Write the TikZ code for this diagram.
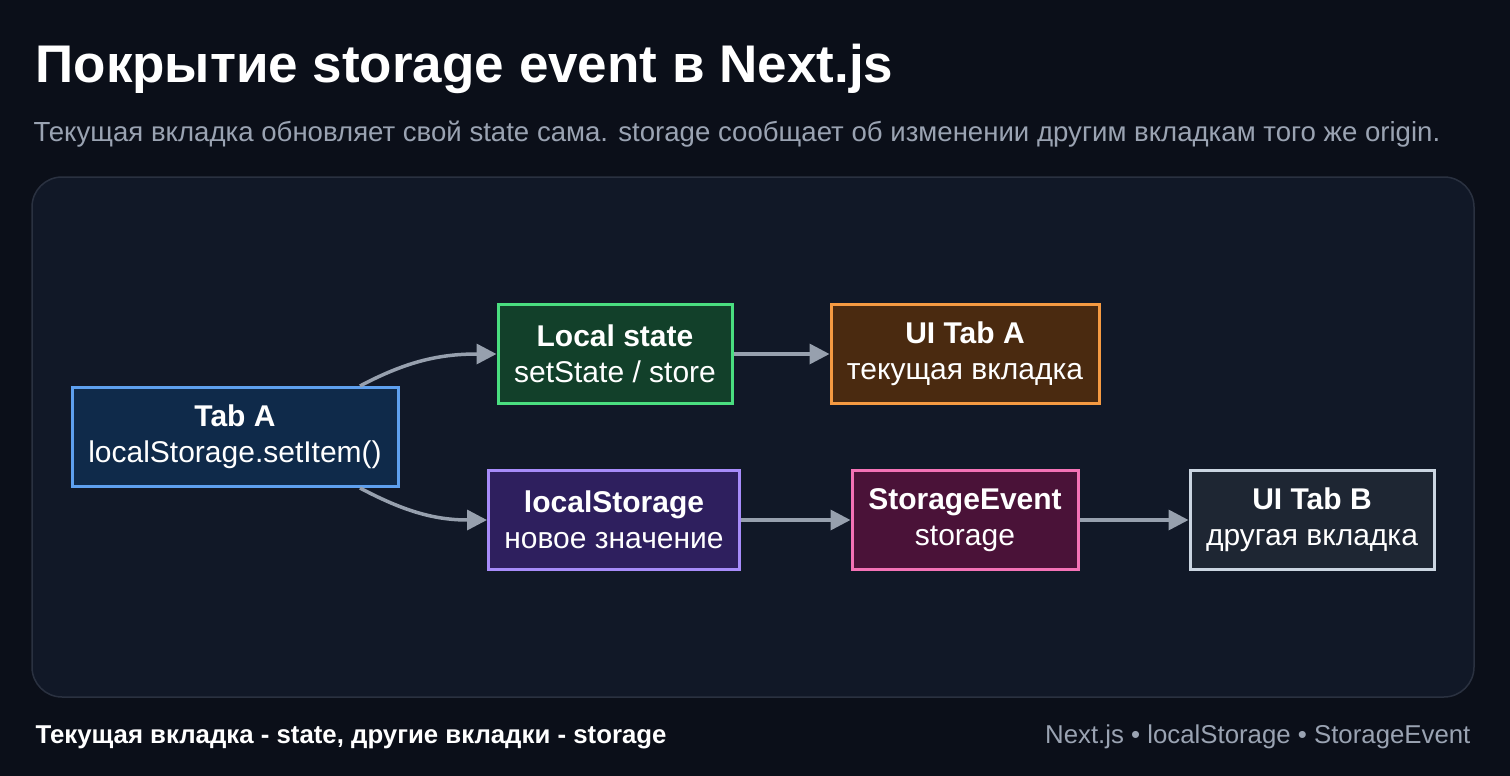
\documentclass[tikz,border=0pt]{standalone}
\usepackage{fontspec}
\setmainfont{Liberation Sans}
\usetikzlibrary{arrows.meta,positioning}
\definecolor{bg}{HTML}{0B0F19}
\definecolor{panel}{HTML}{111827}
\definecolor{panelline}{HTML}{2A3140}
\definecolor{muted}{HTML}{9AA3B2}
\definecolor{arrowc}{HTML}{97A0AE}
\definecolor{tabafill}{HTML}{0F2A4A}\definecolor{tabaline}{HTML}{5EA0EF}
\definecolor{localfill}{HTML}{12402A}\definecolor{localline}{HTML}{4ADE80}
\definecolor{uiafill}{HTML}{4A2A10}\definecolor{uialine}{HTML}{F59A42}
\definecolor{lsfill}{HTML}{2E1F5E}\definecolor{lsline}{HTML}{A78BFA}
\definecolor{evfill}{HTML}{4A1238}\definecolor{evline}{HTML}{F472B6}
\definecolor{uibfill}{HTML}{1E2633}\definecolor{uibline}{HTML}{CBD5E1}
\tikzset{
	box/.style={draw, line width=3pt, minimum height=99pt, align=center, text=white, font=\fontsize{30}{36}\selectfont},
	flow/.style={draw=arrowc, line width=3.5pt, -{Triangle[length=20pt,width=20pt]}},
}
\begin{document}
\begin{tikzpicture}[x=1pt,y=-1pt]

	\fill [bg] (0,0) rectangle (1510,776);
	\useasboundingbox (0,0) rectangle (1510,776);

	\node [anchor=base west, text=white, font=\fontsize{53}{60}\selectfont\bfseries] (title) at (32,82) {Покрытие storage event в Next.js};
	\node [anchor=base west, text=muted, font=\fontsize{27.6}{32}\selectfont] (subtitle) at (30,141) {Текущая вкладка обновляет свой state сама. storage сообщает об изменении другим вкладкам того же origin.};

	\draw [panelline, fill=panel, line width=1.5pt, rounded corners=30pt] (32,177) rectangle (1474,697);

	\node [box, fill=tabafill, draw=tabaline, minimum width=326pt] (taba) at (235,437) {\textbf{Tab A}\\localStorage.setItem()};
	\node [box, fill=localfill, draw=localline, minimum width=234pt] (local) at (615,354) {\textbf{Local state}\\setState / store};
	\node [box, fill=uiafill, draw=uialine, minimum width=268pt] (uia) at (965,354) {\textbf{UI Tab A}\\текущая вкладка};
	\node [box, fill=lsfill, draw=lsline, minimum width=251pt] (ls) at (614,520) {\textbf{localStorage}\\новое значение};
	\node [box, fill=evfill, draw=evline, minimum width=226pt] (event) at (965,520) {\textbf{StorageEvent}\\storage};
	\node [box, fill=uibfill, draw=uibline, minimum width=244pt] (uib) at (1312,520) {\textbf{UI Tab B}\\другая вкладка};

	\draw [flow] ([xshift=125pt]taba.north) to [out=28, in=180] (local.west);
	\draw [flow] ([xshift=125pt]taba.south) to [out=-28, in=180] (ls.west);
	\draw [flow] (local) -- (uia);
	\draw [flow] (ls) -- (event);
	\draw [flow] (event) -- (uib);

	\node [anchor=base west, text=white, font=\fontsize{25.8}{30}\selectfont\bfseries] (footl) at (32,743) {Текущая вкладка - state, другие вкладки - storage};
	\node [anchor=base east, text=muted, font=\fontsize{25.8}{30}\selectfont] (footr) at (1474,743) {Next.js • localStorage • StorageEvent};

\end{tikzpicture}
\end{document}
